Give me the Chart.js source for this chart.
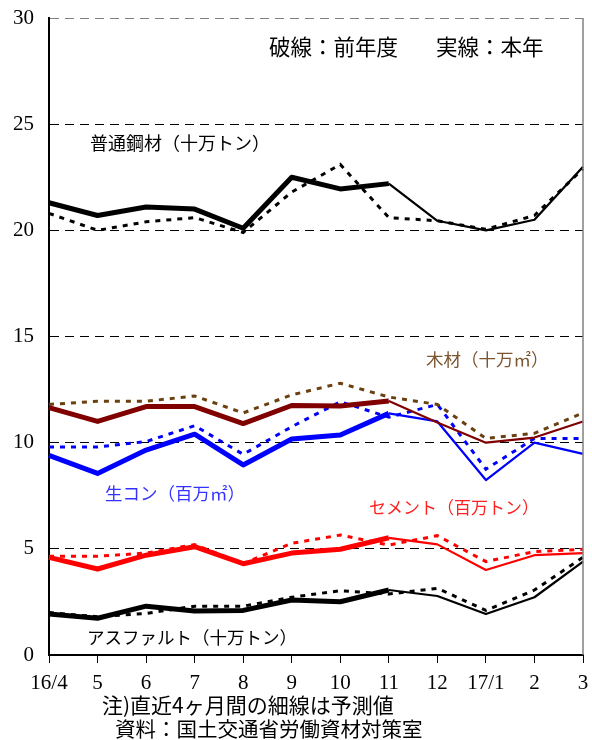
<!DOCTYPE html>
<html>
<head>
<meta charset="utf-8">
<script src="https://cdn.jsdelivr.net/npm/chart.js@4"></script>
<style>
  html, body { margin: 0; padding: 0; background: #fff; }
  #wrap { width: 592px; height: 740px; }
</style>
</head>
<body>
<div id="wrap"><canvas id="chart"></canvas></div>
<script>
// 月
const months = ['16/4', '5', '6', '7', '8', '9', '10', '11', '12', '17/1', '2', '3'];
const yTicks = [0, 5, 10, 15, 20, 25, 30];

// 実線:本年 / 破線:前年度
const steelNow = [21.3, 20.7, 21.1, 21.0, 20.1, 22.5, 21.95, 22.2, 20.45, 20.0, 20.5, 23.0];
const steelPrev = [20.8, 20.0, 20.4, 20.6, 19.9, 21.8, 23.1, 20.6, 20.45, 20.05, 20.7, 22.9];
const woodNow = [11.65, 11.0, 11.7, 11.7, 10.9, 11.75, 11.73, 11.96, 10.95, 10.0, 10.24, 11.0];
const woodPrev = [11.8, 11.95, 11.95, 12.2, 11.4, 12.25, 12.8, 12.15, 11.8, 10.2, 10.44, 11.4];
const concNow = [9.4, 8.55, 9.65, 10.4, 8.95, 10.17, 10.36, 11.38, 11.0, 8.24, 10.0, 9.47];
const concPrev = [9.8, 9.8, 10.05, 10.8, 9.45, 10.75, 11.93, 11.2, 11.8, 8.75, 10.2, 10.2];
const cementNow = [4.6, 4.05, 4.7, 5.1, 4.3, 4.8, 4.98, 5.52, 5.21, 4.0, 4.7, 4.8];
const cementPrev = [4.65, 4.65, 4.8, 5.2, 4.3, 5.26, 5.65, 5.18, 5.62, 4.4, 4.87, 4.98];
const asphNow = [1.93, 1.73, 2.3, 2.07, 2.1, 2.59, 2.51, 3.06, 2.78, 1.93, 2.72, 4.4];
const asphPrev = [2.0, 1.8, 1.96, 2.3, 2.3, 2.72, 3.03, 2.87, 3.14, 2.1, 3.06, 4.6];

const serif = '"Liberation Serif", "Noto Sans CJK JP", serif';
const jp = '"Noto Sans CJK JP", "Liberation Serif", sans-serif';

// 直近4ヶ月は細線
function nowLine(data, color) {
    return {
        data: data,
        borderColor: color,
        borderWidth: 5,
        pointRadius: 0,
        tension: 0,
        borderJoinStyle: 'round',
        segment: {
            borderWidth: ctx => ctx.p0DataIndex >= 7 ? 2.2 : 5
        }
    };
}

function prevLine(data, color) {
    return {
        data: data,
        borderColor: color,
        borderWidth: 3,
        borderDash: [5, 6],
        pointRadius: 0,
        tension: 0
    };
}

// 注記テキスト
const notes = [
    { text: '破線：前年度', x: 269, y: 47, size: 21.5, color: '#000' },
    { text: '実線：本年', x: 436, y: 47, size: 21.5, color: '#000' },
    { text: '普通鋼材（十万トン）', x: 90, y: 143, size: 18, color: '#000' },
    { text: '木材（十万㎡）', x: 426, y: 359, size: 17.5, color: '#7a5530' },
    { text: '生コン（百万㎡）', x: 105, y: 493, size: 17.5, color: '#3333ff' },
    { text: 'セメント（百万トン）', x: 369, y: 508, size: 17, color: '#ff2020' },
    { text: 'アスファルト（十万トン）', x: 87, y: 637, size: 17.5, color: '#000' },
    { text: '注)直近4ヶ月間の細線は予測値', x: 102, y: 705, size: 21, color: '#000' },
    { text: '資料：国土交通省労働資材対策室', x: 115, y: 729, size: 20.5, color: '#000' }
];

const notePlugin = {
    id: 'notes',
    afterDraw(chart) {
        const ctx = chart.ctx;
        ctx.save();
        ctx.textBaseline = 'middle';
        ctx.textAlign = 'left';
        notes.forEach(n => {
            ctx.font = n.size + 'px ' + jp;
            ctx.fillStyle = n.color;
            ctx.fillText(n.text, n.x, n.y);
        });
        // 右枠
        const a = chart.chartArea;
        ctx.strokeStyle = '#808080';
        ctx.lineWidth = 1.5;
        ctx.beginPath();
        ctx.moveTo(a.right, a.top);
        ctx.lineTo(a.right, a.bottom);
        ctx.stroke();
        ctx.restore();
    }
};

new Chart(document.getElementById('chart'), {
    type: 'line',
    data: {
        labels: months,
        datasets: [
            nowLine(steelNow, '#000000'),
            prevLine(steelPrev, '#000000'),
            nowLine(woodNow, '#800000'),
            prevLine(woodPrev, '#6b4010'),
            nowLine(concNow, '#0000ff'),
            prevLine(concPrev, '#0000ff'),
            nowLine(cementNow, '#ff0000'),
            prevLine(cementPrev, '#ff0000'),
            nowLine(asphNow, '#000000'),
            prevLine(asphPrev, '#000000')
        ]
    },
    options: {
        responsive: true,
        maintainAspectRatio: false,
        animation: false,
        layout: { padding: { top: 18, right: 9, left: 0, bottom: 0 } },
        plugins: {
            legend: { display: false },
            tooltip: { enabled: false }
        },
        scales: {
            x: {
                offset: false,
                grid: {
                    drawOnChartArea: false,
                    drawTicks: true,
                    tickLength: 8,
                    tickColor: '#000',
                    color: '#000'
                },
                border: { color: '#000', width: 2 },
                ticks: {
                    color: '#000',
                    padding: 8,
                    maxRotation: 0,
                    autoSkip: false,
                    font: { family: serif, size: 21 }
                },
                afterFit(scale) {
                    scale.height = 85;
                    scale.paddingLeft = 0;
                    scale.paddingRight = 0;
                }
            },
            y: {
                min: 0,
                max: 30,
                afterBuildTicks(scale) { scale.ticks = yTicks.map(v => ({ value: v })); },
                grid: {
                    drawTicks: false,
                    lineWidth: 1,
                    color: c => c.tick.value === 0 ? 'rgba(0,0,0,0)' : (c.tick.value === 30 ? '#808080' : '#000')
                },
                border: { color: '#000', width: 2, dash: [9, 6] },
                ticks: {
                    color: '#000',
                    padding: 15,
                    font: { family: serif, size: 21 }
                },
                afterFit(scale) {
                    scale.width = 49;
                    scale.paddingTop = 0;
                    scale.paddingBottom = 0;
                }
            }
        }
    },
    plugins: [notePlugin]
});
</script>
</body>
</html>
